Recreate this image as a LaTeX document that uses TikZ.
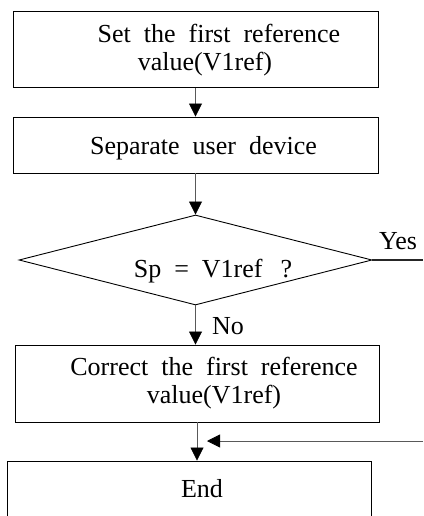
\documentclass[tikz,border=0pt]{standalone}
\usepackage{fontspec}
\setmainfont{Liberation Serif}[WordSpace=2]
\usetikzlibrary{arrows.meta,shapes.geometric}
\tikzset{
  box/.style={draw=black, line width=0.9pt, minimum width=365pt, inner sep=0pt},
  dec/.style={diamond, draw=black, line width=0.9pt, minimum width=353pt, minimum height=90pt, inner sep=0pt},
  txt/.style={font=\fontsize{26}{28}\selectfont, align=center, inner sep=0pt},
  flow/.style={draw=black!65, line width=0.8pt, -{Triangle[length=13pt,width=13pt,black]}},
  yesline/.style={draw=black!85, line width=1.6pt},
}
\begin{document}
\begin{tikzpicture}[x=1pt,y=-1pt]
  \useasboundingbox (0,0) rectangle (423,516);
  \clip (0,0) rectangle (423,516);
  % boxes
  \node[box, minimum height=76pt] (set) at (195.5,49.5) {};
  \node[box, minimum height=56pt] (sep) at (195.5,145) {};
  \node[dec] (chk) at (195.5,260) {};
  \node[box, minimum width=364pt, minimum height=77pt] (corr) at (197,383.5) {};
  \node[box, minimum width=364pt, minimum height=80pt] (done) at (189,501) {};
  % texts
  \node[txt] (setT) at (212,50) {\hspace*{14pt}Set the first reference\\value(V1ref)\hspace*{14pt}};
  \node[txt] (sepT) at (203.5,148) {Separate user device};
  \node[txt] (chkT) at (213,271) {Sp = V1ref\hspace{18pt}?};
  \node[txt] (corrT) at (214,383) {Correct the first reference\\value(V1ref)};
  \node[txt] (doneT) at (202,489) {End};
  \node[txt] (yesT) at (398,241) {Yes};
  \node[txt] (noT) at (228,326) {No};
  % connectors
  \coordinate (yesEnd) at (423,260);
  \coordinate (back) at (423,441);
  \coordinate (join) at (207,441);
  \draw[flow] (set) -- (sep);
  \draw[flow] (sep.south) -- (sep.south |- chk.north);
  \draw[flow] (chk.south) -- (chk.south |- corr.north);
  \draw[flow] (corr.south) -- (corr.south |- done.north);
  \draw[yesline] (chk.east) -- (yesEnd);
  \draw[flow] (back) -- (join);
\end{tikzpicture}
\end{document}
